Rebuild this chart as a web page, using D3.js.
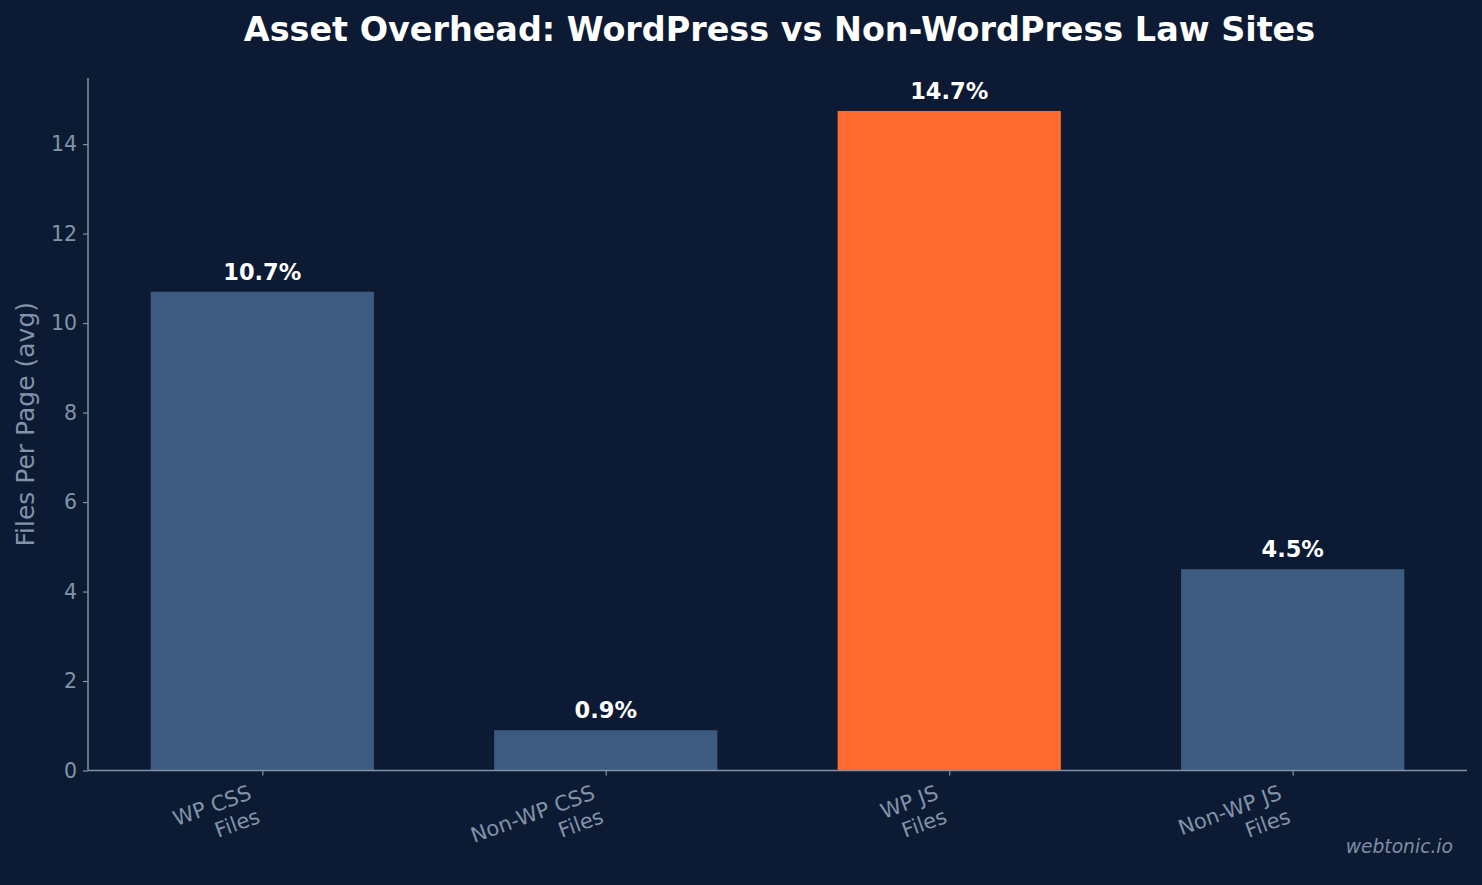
<!DOCTYPE html>
<html lang="en">
<head>
  <meta charset="UTF-8">
  <title>Asset Overhead</title>
  <script src="https://d3js.org/d3.v7.min.js"></script>
  <style>
    body { margin: 0; background-color: #0c1b33; font-family: "DejaVu Sans", sans-serif; }
    svg { display: block; }
  </style>
</head>
<body>
<div id="viz"></div>
<script>
// Data
var categories = ["WP CSS\nFiles", "Non-WP CSS\nFiles", "WP JS\nFiles", "Non-WP JS\nFiles"];
var values = [10.7, 0.9, 14.74, 4.5];
var barColors = ["#3d5a80", "#3d5a80", "#ff6b2e", "#3d5a80"];
var yTicks = [0, 2, 4, 6, 8, 10, 12, 14];

var W = 1482, H = 885;
var plotLeft = 88, plotRight = 1467, plotTop = 78, plotBottom = 770.5;
var axisColor = "#8191a6", tickText = "#8393a8";

var svg = d3.select("#viz").append("svg")
    .attr("width", W).attr("height", H);

svg.append("rect").attr("width", W).attr("height", H).attr("fill", "#0c1b33");

var x = d3.scaleLinear().domain([-0.5075, 3.5075]).range([plotLeft, plotRight]);
var y = d3.scaleLinear().domain([0, d3.max(values) * 1.05]).range([plotBottom, plotTop]);
var bw = 0.65;

// Bars
svg.selectAll("rect.bar")
  .data(values)
  .enter()
  .append("rect")
    .attr("class", "bar")
    .attr("x", (d, i) => x(i - bw / 2))
    .attr("width", (d, i) => x(i + bw / 2) - x(i - bw / 2))
    .attr("y", d => y(d))
    .attr("height", d => y(0) - y(d))
    .attr("fill", (d, i) => barColors[i]);

// Value labels
svg.selectAll("text.val")
  .data(values)
  .enter()
  .append("text")
    .attr("class", "val")
    .attr("x", (d, i) => x(i))
    .attr("y", d => y(d) - 12)
    .attr("text-anchor", "middle")
    .style("font-size", "22.5px")
    .style("font-weight", "bold")
    .style("fill", "#ffffff")
    .text(d => d.toFixed(1) + "%");

// Y axis
var yAxis = svg.append("g")
    .attr("transform", "translate(" + plotLeft + ",0)")
    .call(d3.axisLeft(y).tickValues(yTicks).tickSize(5).tickPadding(6).tickFormat(d3.format("d")));
yAxis.select(".domain").attr("d", "M0," + plotTop + "V" + plotBottom).attr("stroke", axisColor).attr("stroke-width", 1.5);
yAxis.selectAll(".tick line").attr("stroke", axisColor).attr("stroke-width", 1.2);
yAxis.selectAll(".tick text").style("font-size", "20.5px").style("font-family", "DejaVu Sans").attr("fill", tickText);

// X axis
var xAxis = svg.append("g")
    .attr("transform", "translate(0," + plotBottom + ")")
    .call(d3.axisBottom(x).tickValues(d3.range(categories.length)).tickSize(5).tickFormat(""));
xAxis.select(".domain").attr("d", "M" + plotLeft + ",0H" + plotRight).attr("stroke", axisColor).attr("stroke-width", 1.5);
xAxis.selectAll(".tick line").attr("stroke", axisColor).attr("stroke-width", 1.2);

// Rotated two-line category labels, right-aligned lines, anchored near the tick
categories.forEach(function(c, i) {
  var g = svg.append("g")
      .attr("transform", "translate(" + (x(i) - 15) + "," + (plotBottom + 13) + ") rotate(-20)");
  var t = g.append("text")
      .style("font-size", "21px")
      .style("fill", tickText)
      .attr("text-anchor", "end");
  c.split("\n").forEach(function(l, k) {
    t.append("tspan").attr("x", 0).attr("dy", k === 0 ? "0.76em" : "1.2em").text(l);
  });
});

// Y label
svg.append("text")
    .attr("transform", "translate(34," + ((plotTop + plotBottom) / 2) + ") rotate(-90)")
    .attr("text-anchor", "middle")
    .style("font-size", "25px")
    .style("fill", tickText)
    .text("Files Per Page (avg)");

// Title
svg.append("text")
    .attr("x", (plotLeft + plotRight) / 2 + 2)
    .attr("y", 41)
    .attr("text-anchor", "middle")
    .style("font-size", "33.4px")
    .style("font-weight", "bold")
    .style("fill", "#ffffff")
    .text("Asset Overhead: WordPress vs Non-WordPress Law Sites");

// Watermark
svg.append("text")
    .attr("x", 1453)
    .attr("y", 853)
    .attr("text-anchor", "end")
    .style("font-size", "18.7px")
    .style("font-style", "italic")
    .style("fill", "#7f8ea3")
    .text("webtonic.io");
</script>
</body>
</html>
